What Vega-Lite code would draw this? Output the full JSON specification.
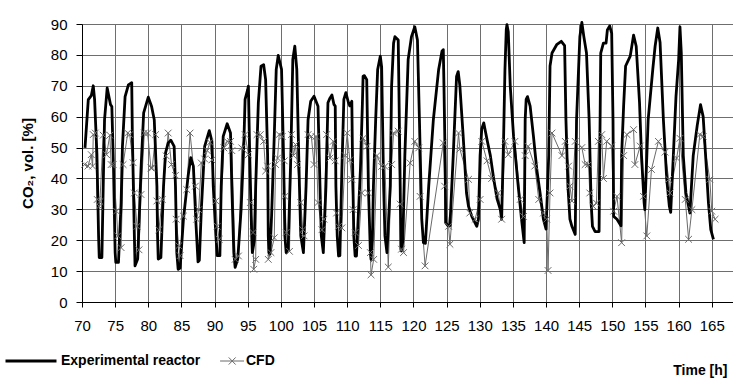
{
 "$schema": "https://vega.github.io/schema/vega-lite/v6.json",
 "width": 651, "height": 278,
 "autosize": {"type": "none"},
 "padding": {"left": 82, "top": 24, "right": 0, "bottom": 77},
 "background": "white",
 "config": {"view": {"stroke": null}, "font": "Liberation Sans, Arial, sans-serif"},
 "datasets": {
  "exp": [
   {"t":70.45,"v":49.9},{"t":70.95,"v":65.5},{"t":71.4,"v":66.8},{"t":71.7,"v":70},{"t":71.9,"v":65.5},{"t":72.25,"v":48},{"t":72.5,"v":21.4},{"t":72.6,"v":14.4},{"t":73.0,"v":14.4},{"t":73.2,"v":37.5},{"t":73.4,"v":59},{"t":73.8,"v":69.3},{"t":74.3,"v":63.9},{"t":74.5,"v":63.3},{"t":74.76,"v":42.9},{"t":75.0,"v":16},{"t":75.1,"v":12.8},{"t":75.5,"v":12.8},{"t":75.9,"v":32},{"t":76.1,"v":50.4},{"t":76.5,"v":66.5},{"t":77.0,"v":70.3},{"t":77.5,"v":71},{"t":77.6,"v":53.6},{"t":77.9,"v":21.4},{"t":78.0,"v":11.7},{"t":78.4,"v":13.9},{"t":78.9,"v":42.9},{"t":79.3,"v":61.2},{"t":80.0,"v":66.3},{"t":80.5,"v":63.3},{"t":80.9,"v":59},{"t":81.3,"v":37.5},{"t":81.4,"v":21.4},{"t":81.5,"v":13.9},{"t":81.9,"v":14.4},{"t":82.3,"v":37.5},{"t":82.6,"v":48.3},{"t":83.0,"v":51.5},{"t":83.4,"v":52.4},{"t":83.9,"v":50.4},{"t":84.1,"v":37.5},{"t":84.3,"v":16},{"t":84.5,"v":10.6},{"t":84.8,"v":11},{"t":85.3,"v":26.8},{"t":86.0,"v":40.7},{"t":86.4,"v":46.7},{"t":86.8,"v":44},{"t":87.2,"v":25},{"t":87.5,"v":13},{"t":87.7,"v":13.5},{"t":88.0,"v":30},{"t":88.5,"v":50.4},{"t":89.2,"v":55.5},{"t":89.6,"v":52},{"t":89.8,"v":37.5},{"t":90.2,"v":21.4},{"t":90.4,"v":15},{"t":90.8,"v":15},{"t":91.0,"v":37.5},{"t":91.3,"v":53.6},{"t":91.9,"v":57.7},{"t":92.4,"v":54.7},{"t":92.6,"v":37.5},{"t":92.9,"v":16},{"t":93.1,"v":11.2},{"t":93.5,"v":14},{"t":94.0,"v":30},{"t":94.4,"v":50.4},{"t":94.6,"v":65.6},{"t":95.0,"v":68.8},{"t":95.1,"v":69.9},{"t":95.3,"v":47.4},{"t":95.6,"v":21.4},{"t":95.7,"v":16},{"t":96.0,"v":20},{"t":96.2,"v":37.5},{"t":96.6,"v":64.5},{"t":97.0,"v":76.3},{"t":97.4,"v":76.8},{"t":97.7,"v":72},{"t":98.0,"v":47.4},{"t":98.1,"v":21.4},{"t":98.2,"v":16},{"t":98.35,"v":15.5},{"t":98.6,"v":28},{"t":99.0,"v":53.6},{"t":99.3,"v":75.3},{"t":99.6,"v":79.8},{"t":100.1,"v":75.3},{"t":100.4,"v":47.4},{"t":100.6,"v":21.4},{"t":100.8,"v":16},{"t":101.1,"v":17},{"t":101.5,"v":47.4},{"t":101.8,"v":78.5},{"t":102.1,"v":82.8},{"t":102.4,"v":75.3},{"t":102.8,"v":37.5},{"t":103.0,"v":21.4},{"t":103.4,"v":16},{"t":103.8,"v":37.5},{"t":104.1,"v":59},{"t":104.5,"v":65},{"t":105.0,"v":66.6},{"t":105.6,"v":63.4},{"t":105.9,"v":37.5},{"t":106.1,"v":21.4},{"t":106.4,"v":16},{"t":106.8,"v":37.5},{"t":107.1,"v":64.5},{"t":107.4,"v":66},{"t":107.7,"v":67},{"t":108.0,"v":64},{"t":108.2,"v":63.4},{"t":108.3,"v":37.5},{"t":108.5,"v":21.4},{"t":108.7,"v":14.9},{"t":108.9,"v":15},{"t":109.2,"v":42.9},{"t":109.5,"v":65.6},{"t":109.8,"v":67.8},{"t":110.2,"v":64.5},{"t":110.4,"v":63.5},{"t":110.7,"v":65},{"t":110.8,"v":47.4},{"t":111.0,"v":21.4},{"t":111.2,"v":14.9},{"t":111.4,"v":14.9},{"t":112.0,"v":42.9},{"t":112.3,"v":64.5},{"t":112.4,"v":73.1},{"t":112.6,"v":73.3},{"t":112.95,"v":72},{"t":113.2,"v":37.5},{"t":113.5,"v":16},{"t":113.6,"v":13.8},{"t":113.8,"v":20},{"t":113.96,"v":37.5},{"t":114.3,"v":59},{"t":114.6,"v":75.3},{"t":115.0,"v":79.6},{"t":115.2,"v":76},{"t":115.5,"v":37.5},{"t":115.7,"v":21.4},{"t":116.0,"v":16},{"t":116.5,"v":37.5},{"t":116.7,"v":69.9},{"t":117.0,"v":83.8},{"t":117.2,"v":85.9},{"t":117.7,"v":84.8},{"t":117.8,"v":69.9},{"t":118.0,"v":37.5},{"t":118.1,"v":17.1},{"t":118.2,"v":16.5},{"t":118.4,"v":20},{"t":118.7,"v":47.4},{"t":119.2,"v":78.5},{"t":119.7,"v":85.9},{"t":120.2,"v":89.1},{"t":120.6,"v":84.8},{"t":120.9,"v":59},{"t":121.25,"v":26.8},{"t":121.5,"v":19.2},{"t":121.8,"v":19},{"t":122.3,"v":37.5},{"t":123.0,"v":59},{"t":123.8,"v":75.3},{"t":124.3,"v":81.2},{"t":124.5,"v":81.7},{"t":124.6,"v":70},{"t":124.8,"v":43},{"t":124.85,"v":25.7},{"t":125.2,"v":24.7},{"t":125.5,"v":24.7},{"t":126.0,"v":47.4},{"t":126.5,"v":73},{"t":126.75,"v":74.6},{"t":127.0,"v":70},{"t":127.5,"v":53.6},{"t":128.0,"v":35.3},{"t":128.3,"v":31},{"t":128.8,"v":27.7},{"t":129.55,"v":24.5},{"t":129.8,"v":26.8},{"t":130.05,"v":47.4},{"t":130.3,"v":56},{"t":130.6,"v":58},{"t":131.1,"v":52.5},{"t":131.6,"v":47.4},{"t":132.1,"v":39.9},{"t":132.6,"v":33.5},{"t":133.1,"v":29.9},{"t":133.3,"v":26.8},{"t":133.6,"v":53.6},{"t":133.8,"v":75.3},{"t":134.0,"v":88.2},{"t":134.1,"v":89.8},{"t":134.3,"v":87.5},{"t":134.6,"v":69.9},{"t":135.1,"v":53.6},{"t":135.8,"v":37.5},{"t":136.3,"v":26.8},{"t":136.7,"v":19.2},{"t":136.85,"v":59},{"t":137.0,"v":65.6},{"t":137.2,"v":66.5},{"t":137.6,"v":63.4},{"t":138.1,"v":53.6},{"t":138.6,"v":42.9},{"t":139.1,"v":35.3},{"t":139.6,"v":26.8},{"t":140.0,"v":23.6},{"t":140.4,"v":47.4},{"t":140.6,"v":76.4},{"t":140.9,"v":80.6},{"t":141.6,"v":83.3},{"t":142.3,"v":84.4},{"t":142.8,"v":83},{"t":143.0,"v":59},{"t":143.3,"v":37.5},{"t":143.6,"v":26.8},{"t":143.9,"v":24.5},{"t":144.4,"v":21.9},{"t":144.6,"v":59},{"t":145.1,"v":85.9},{"t":145.4,"v":90.5},{"t":145.7,"v":85.9},{"t":146.1,"v":80.6},{"t":146.5,"v":59},{"t":146.8,"v":32},{"t":147.0,"v":24.5},{"t":147.4,"v":22.8},{"t":148.0,"v":22.8},{"t":148.1,"v":47.4},{"t":148.25,"v":80.6},{"t":148.65,"v":83.8},{"t":149.05,"v":83.8},{"t":149.25,"v":88.1},{"t":149.6,"v":89.4},{"t":149.9,"v":87},{"t":150.1,"v":59},{"t":150.2,"v":27.7},{"t":150.7,"v":26.8},{"t":151.3,"v":24.7},{"t":151.4,"v":47.4},{"t":151.7,"v":63.4},{"t":152.0,"v":76.4},{"t":152.7,"v":79.6},{"t":153.2,"v":86.4},{"t":153.6,"v":82.8},{"t":154.1,"v":64.5},{"t":154.4,"v":47.4},{"t":154.8,"v":32},{"t":154.9,"v":29.9},{"t":155.4,"v":59},{"t":156.1,"v":75.3},{"t":156.45,"v":82.8},{"t":156.85,"v":88.7},{"t":157.2,"v":84},{"t":157.7,"v":59},{"t":158.2,"v":39.9},{"t":158.6,"v":31},{"t":158.8,"v":29},{"t":159.2,"v":47.4},{"t":159.6,"v":66.5},{"t":160.0,"v":78.5},{"t":160.2,"v":89.1},{"t":160.4,"v":80.6},{"t":160.7,"v":47.4},{"t":161.1,"v":35.3},{"t":161.5,"v":31},{"t":161.7,"v":28.8},{"t":162.2,"v":47.4},{"t":162.8,"v":57.1},{"t":163.3,"v":63.9},{"t":163.7,"v":60},{"t":164.1,"v":46.3},{"t":164.5,"v":32},{"t":164.85,"v":23.4},{"t":165.25,"v":20.3}
  ],
  "cfd": [
   {"t":70.4,"v":44.5},{"t":70.9,"v":44},{"t":71.4,"v":47.7},{"t":71.6,"v":44},{"t":71.7,"v":54.2},{"t":72.0,"v":54.7},{"t":72.3,"v":33.2},{"t":72.6,"v":31},{"t":72.7,"v":32.5},{"t":73.2,"v":54},{"t":73.7,"v":47.7},{"t":74.2,"v":54},{"t":74.4,"v":44.5},{"t":74.7,"v":44.5},{"t":75.2,"v":29.4},{"t":75.4,"v":21.4},{"t":75.9,"v":17.6},{"t":76.2,"v":44.5},{"t":76.9,"v":54.7},{"t":77.2,"v":54.2},{"t":77.7,"v":45.1},{"t":77.9,"v":35.3},{"t":78.3,"v":24.5},{"t":78.6,"v":16.9},{"t":78.9,"v":34.8},{"t":79.4,"v":54.7},{"t":79.9,"v":54.7},{"t":80.4,"v":43.4},{"t":80.6,"v":43.4},{"t":81.1,"v":54.2},{"t":81.3,"v":32.7},{"t":81.6,"v":23.4},{"t":82.1,"v":33.2},{"t":82.7,"v":47.3},{"t":83.0,"v":54.7},{"t":83.5,"v":44.5},{"t":84.1,"v":41},{"t":84.2,"v":26.8},{"t":84.6,"v":18.2},{"t":84.8,"v":15},{"t":85.3,"v":27.8},{"t":85.8,"v":36.4},{"t":86.3,"v":54.7},{"t":87.1,"v":37.5},{"t":87.3,"v":26.8},{"t":87.6,"v":29.9},{"t":88.0,"v":45},{"t":88.5,"v":46.3},{"t":88.9,"v":49},{"t":89.3,"v":51.7},{"t":89.6,"v":46},{"t":90.2,"v":32.7},{"t":90.4,"v":24.5},{"t":90.7,"v":20.3},{"t":91.4,"v":49.9},{"t":91.9,"v":52},{"t":92.4,"v":52},{"t":92.6,"v":49},{"t":93.1,"v":13.8},{"t":93.6,"v":14.9},{"t":94.1,"v":49.9},{"t":94.6,"v":54.2},{"t":95.1,"v":47.7},{"t":95.4,"v":32.2},{"t":95.8,"v":22.5},{"t":95.9,"v":10.6},{"t":96.2,"v":13.8},{"t":96.4,"v":54.2},{"t":96.9,"v":54.2},{"t":97.4,"v":52},{"t":97.7,"v":42.4},{"t":98.0,"v":44},{"t":98.1,"v":13.8},{"t":98.5,"v":16},{"t":99.0,"v":20.8},{"t":99.2,"v":44.5},{"t":99.5,"v":46.6},{"t":99.75,"v":54.2},{"t":100.2,"v":53.6},{"t":100.5,"v":45.7},{"t":100.6,"v":34.2},{"t":100.8,"v":22.5},{"t":101.3,"v":16.4},{"t":101.6,"v":54.2},{"t":101.9,"v":47.4},{"t":102.2,"v":51},{"t":102.5,"v":44.5},{"t":103.0,"v":32.2},{"t":103.3,"v":23.4},{"t":103.5,"v":21.4},{"t":104.1,"v":54.2},{"t":104.6,"v":53.6},{"t":105.0,"v":44.5},{"t":105.3,"v":53.6},{"t":105.6,"v":32.2},{"t":106.2,"v":23.4},{"t":106.5,"v":26.8},{"t":106.9,"v":54.2},{"t":107.4,"v":46.6},{"t":107.9,"v":52},{"t":108.2,"v":45.7},{"t":108.4,"v":28.8},{"t":108.7,"v":24.5},{"t":109.2,"v":24},{"t":109.7,"v":47.4},{"t":110.0,"v":54.7},{"t":110.4,"v":46},{"t":110.7,"v":39.7},{"t":110.9,"v":29.9},{"t":111.2,"v":22.5},{"t":111.7,"v":18.3},{"t":112.2,"v":35.3},{"t":112.4,"v":53},{"t":113.0,"v":50.4},{"t":113.2,"v":35.3},{"t":113.5,"v":16},{"t":113.6,"v":8.8},{"t":114.0,"v":13.8},{"t":114.5,"v":47.4},{"t":115.2,"v":43.9},{"t":115.7,"v":43.9},{"t":116.2,"v":11.3},{"t":116.7,"v":44.5},{"t":117.0,"v":54.7},{"t":117.7,"v":55.3},{"t":118.0,"v":31.7},{"t":118.2,"v":17.1},{"t":118.5,"v":16},{"t":119.5,"v":45},{"t":120.2,"v":52},{"t":120.8,"v":49.9},{"t":121.0,"v":34.2},{"t":121.75,"v":11.7},{"t":124.5,"v":51.5},{"t":124.7,"v":37.5},{"t":125.3,"v":24.5},{"t":125.5,"v":18.7},{"t":126.8,"v":54.7},{"t":127.0,"v":49.5},{"t":128.3,"v":39.7},{"t":128.5,"v":28.8},{"t":129.3,"v":26.8},{"t":130.05,"v":33.2},{"t":130.3,"v":52},{"t":131.1,"v":45.7},{"t":131.8,"v":40},{"t":132.8,"v":35.3},{"t":133.3,"v":26.8},{"t":133.8,"v":52},{"t":134.3,"v":47.7},{"t":135.3,"v":52},{"t":136.1,"v":33.2},{"t":136.6,"v":27.7},{"t":136.85,"v":47.4},{"t":137.3,"v":50.4},{"t":138.3,"v":44},{"t":138.9,"v":33.2},{"t":139.6,"v":28.8},{"t":140.1,"v":26.8},{"t":140.3,"v":10.2},{"t":140.6,"v":35.3},{"t":140.9,"v":54.7},{"t":142.4,"v":47.4},{"t":142.9,"v":52},{"t":143.4,"v":44},{"t":143.6,"v":37.5},{"t":143.9,"v":32.7},{"t":144.4,"v":52},{"t":145.4,"v":50},{"t":145.9,"v":44.5},{"t":146.4,"v":44.5},{"t":146.6,"v":35.3},{"t":147.1,"v":31},{"t":147.6,"v":32},{"t":147.9,"v":52},{"t":148.4,"v":54.2},{"t":148.65,"v":40},{"t":149.15,"v":52},{"t":149.9,"v":50.5},{"t":150.2,"v":29.4},{"t":150.7,"v":34.2},{"t":151.4,"v":19.2},{"t":151.7,"v":47.4},{"t":152.2,"v":54.2},{"t":153.2,"v":55.8},{"t":153.4,"v":44.5},{"t":154.2,"v":50.5},{"t":154.7,"v":34.2},{"t":155.2,"v":21.4},{"t":155.9,"v":42.9},{"t":156.95,"v":52},{"t":157.95,"v":48.5},{"t":158.5,"v":39.7},{"t":158.7,"v":35.3},{"t":159.7,"v":46.6},{"t":160.2,"v":53},{"t":161.0,"v":33.2},{"t":161.5,"v":20.3},{"t":162.0,"v":29.9},{"t":163.2,"v":54.2},{"t":163.7,"v":53.6},{"t":164.7,"v":39.7},{"t":165.0,"v":29.4},{"t":165.5,"v":26.8}
  ]
 },
 "encoding": {
  "x": {"field": "t", "type": "quantitative",
        "scale": {"domain": [70, 168.2], "nice": false, "zero": false},
        "axis": {"values": [70,75,80,85,90,95,100,105,110,115,120,125,130,135,140,145,150,155,160,165],
                 "title": "Time [h]", "titleX": 645, "titleY": 72, "titleAlign": "right", "titleAnchor": "end", "titleBaseline": "alphabetic",
                 "titleFontSize": 14, "titleFontWeight": "bold", "titleColor": "black",
                 "grid": true, "gridColor": "#6e6e6e", "gridWidth": 1,
                 "domainColor": "black", "domainWidth": 1, "tickColor": "black", "tickSize": 5,
                 "labelFontSize": 15, "labelColor": "black", "labelPadding": 11, "labelFlush": false, "labelOverlap": false}},
  "y": {"field": "v", "type": "quantitative",
        "scale": {"domain": [0, 90], "nice": false},
        "axis": {"values": [0,10,20,30,40,50,60,70,80,90],
                 "title": "CO₂, vol. [%]", "titleX": -55, "titleY": 139, "titleAngle": -90, "titleAlign": "center", "titleBaseline": "middle",
                 "titleFontSize": 15, "titleFontWeight": "bold", "titleColor": "black",
                 "grid": true, "gridColor": "#6e6e6e", "gridWidth": 1,
                 "domainColor": "black", "domainWidth": 1, "tickColor": "black", "tickSize": 6,
                 "labelFontSize": 15, "labelColor": "black", "labelPadding": 9}}
 },
 "layer": [
  {"data": {"name": "cfd"},
   "mark": {"type": "line", "strokeWidth": 1, "interpolate": "linear"},
   "encoding": {"color": {"datum": "CFD", "type": "nominal",
     "scale": {"domain": ["Experimental reactor", "CFD"], "range": ["#000000", "#6a6a6a"]},
     "legend": {"orient": "none", "legendX": -58, "legendY": 330, "direction": "horizontal", "title": null,
       "symbolType": "stroke", "symbolSize": 2600, "symbolStrokeWidth": 3,
       "labelFontSize": 14, "labelFontWeight": "bold", "labelColor": "black",
       "labelOffset": 23, "columnPadding": 8,
       "encode": {"symbols": {"update": {
         "shape": {"signal": "datum.value === 'CFD' ? 'M0.16,0L1.1,0M0.5,-0.14L0.77,0.14M0.5,0.14L0.77,-0.14' : 'stroke'"},
         "strokeWidth": {"signal": "datum.value === 'CFD' ? 1 : 3"}}}}}}}},
  {"data": {"name": "exp"},
   "mark": {"type": "line", "strokeWidth": 2.8, "strokeJoin": "round"},
   "encoding": {"color": {"datum": "Experimental reactor", "type": "nominal"}}},
  {"data": {"name": "cfd"},
   "mark": {"type": "point", "shape": "M-1,-1L1,1M-1,1L1,-1", "filled": false, "size": 45, "strokeWidth": 1, "color": "#6a6a6a", "opacity": 1},
   "encoding": {}}
 ]
}
